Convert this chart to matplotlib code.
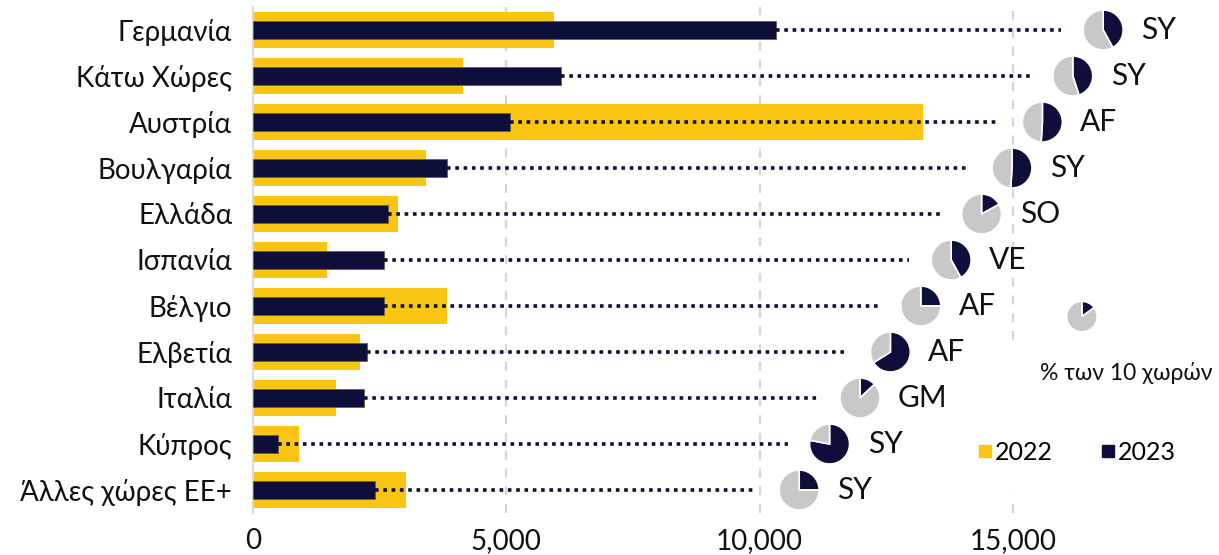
import matplotlib
matplotlib.use("Agg")
import matplotlib.pyplot as plt
from matplotlib.lines import Line2D

plt.rcParams['font.family'] = ['Lato', 'DejaVu Sans']

countries = ['Γερμανία', 'Κάτω Χώρες', 'Αυστρία', 'Βουλγαρία', 'Ελλάδα', 'Ισπανία',
             'Βέλγιο', 'Ελβετία', 'Ιταλία', 'Κύπρος', 'Άλλες χώρες ΕΕ+']
v2022 = [5950, 4150, 13220, 3420, 2870, 1460, 3830, 2110, 1640, 910, 3020]
v2023 = [10320, 6070, 5080, 3830, 2670, 2590, 2590, 2250, 2190, 490, 2410]
top_code = ['SY', 'SY', 'AF', 'SY', 'SO', 'VE', 'AF', 'AF', 'GM', 'SY', 'SY']
top_share = [0.42, 0.45, 0.51, 0.51, 0.17, 0.42, 0.25, 0.66, 0.13, 0.78, 0.25]
legend_share = 0.15

YELLOW = '#F9C412'
NAVY = '#0E0E3A'
GREY = '#C8C8C8'

W, H = 1219, 555
fig = plt.figure(figsize=(W / 100, H / 100), dpi=100)
ax = fig.add_axes([253 / W, (H - 513) / H, (W - 253) / W, 506 / H])

n = len(countries)
y = list(range(n))
ax.set_xlim(0, 19066)
ax.set_ylim(n - 0.5, -0.5)

# gridlines (15000 is broken by the legend area)
for g in [5000, 10000]:
    ax.axvline(g, color='#D5D5D5', lw=1.6, ls=(0, (4, 4)), zorder=0)
ax.axvline(15000, ymin=0.342, ymax=1, color='#D5D5D5', lw=1.6, ls=(0, (4, 4)), zorder=0)
ax.axvline(15000, ymin=0, ymax=0.036, color='#D5D5D5', lw=1.6, ls=(0, (4, 4)), zorder=0)

ax.barh(y, v2022, height=0.8, color=YELLOW, zorder=2)
ax.barh(y, v2023, height=0.39, color=NAVY, edgecolor='#6b6330', linewidth=0.6, zorder=3)

# dotted leader lines running down to the pies
line_start, line_step = 15950, 600
pie_gap, code_gap = 830, 750
for i in range(n):
    end = line_start - line_step * i
    ax.plot([v2023[i], end], [i, i], color=NAVY, lw=2.6, ls=(0, (1, 1.3)),
            dash_capstyle='butt', zorder=4)

ax.set_yticks(y)
ax.set_yticklabels(countries, fontsize=20, color='#111111')
ax.set_xticks([0, 5000, 10000, 15000])
ax.set_xticklabels(['0', '5,000', '10,000', '15,000'], fontsize=20, color='#111111')
ax.tick_params(axis='both', length=0)
ax.tick_params(axis='y', pad=15)
ax.tick_params(axis='x', pad=11)
for s in ['top', 'right', 'bottom']:
    ax.spines[s].set_visible(False)
ax.spines['left'].set_color('#DADADA')
ax.spines['left'].set_linewidth(1.5)


def add_pie(cx, cy, share, r):
    px, py = ax.transData.transform((cx, cy))
    pa = fig.add_axes([(px - r) / W, (py - r) / H, 2 * r / W, 2 * r / H])
    pa.pie([share, 1 - share], colors=[NAVY, GREY], startangle=90, counterclock=False,
           radius=1, wedgeprops=dict(edgecolor='white', linewidth=1.2))
    pa.set_xlim(-1.05, 1.05)
    pa.set_ylim(-1.05, 1.05)
    pa.set_aspect('equal')
    pa.axis('off')


for i in range(n):
    cx = line_start - line_step * i + pie_gap
    add_pie(cx, i, top_share[i], 21)
    ax.text(cx + code_gap, i, top_code[i], fontsize=21.5, color='#111111',
            va='center', ha='left', zorder=5)

# pie legend
add_pie(16360, 6.23, legend_share, 16)
ax.text(17230, 7.45, '% των 10 χωρών', fontsize=16.5, color='#111111',
        ha='center', va='center')

handles = [Line2D([], [], marker='s', ls='', color=YELLOW, markersize=9),
           Line2D([], [], marker='s', ls='', color=NAVY, markersize=9)]
fig.legend(handles, ['2022', '2023'], loc='center left', ncol=2, frameon=False,
           bbox_to_anchor=(955 / W, (H - 452) / H), fontsize=18,
           handlelength=0.6, handletextpad=0.1, columnspacing=1.9)

fig.savefig('out.png', dpi=100)
